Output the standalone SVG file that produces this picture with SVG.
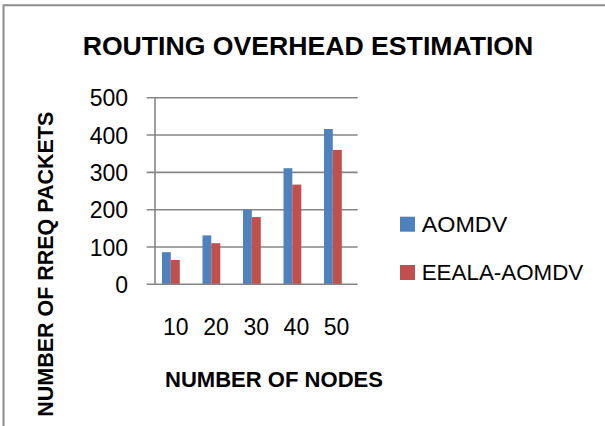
<svg xmlns="http://www.w3.org/2000/svg" width="605" height="426" viewBox="0 0 605 426">
<style>
.t{font-family:"Liberation Sans",Arial,sans-serif;fill:#000}
.b{font-weight:bold}
.grid{stroke:#868686;stroke-width:1.6;fill:none}
.blue{fill:#4F81BD}
.red{fill:#C0504D}
.tick{font-size:23px;text-anchor:end}
.xl{font-size:23px;text-anchor:middle}
</style>
<rect x="0" y="0" width="605" height="426" fill="#fff"/>
<path d="M3.5,426 V5.3 H605" fill="none" stroke="#8c8c8c" stroke-width="2"/>
<g id="title">
<text class="t b" x="82.7" y="55" font-size="26.5" textLength="450.6" lengthAdjust="spacingAndGlyphs">ROUTING OVERHEAD ESTIMATION</text>
</g>
<g id="grid">
<path class="grid" d="M146.7,97.7H357.7M146.7,135.0H357.7M146.7,172.4H357.7M146.7,209.7H357.7M146.7,247.0H357.7M155,97.7V284.3"/>
</g>
<g id="y-ticks">
<text class="t tick" x="128" y="106.2">500</text>
<text class="t tick" x="128" y="143.5">400</text>
<text class="t tick" x="128" y="180.9">300</text>
<text class="t tick" x="128" y="218.2">200</text>
<text class="t tick" x="128" y="255.5">100</text>
<text class="t tick" x="128" y="292.6">0</text>
</g>
<g id="series-aomdv">
<rect class="blue" x="162" y="252.2" width="8.8" height="32.1"/>
<rect class="blue" x="202.5" y="235.4" width="8.8" height="48.9"/>
<rect class="blue" x="243" y="209.6" width="8.8" height="74.7"/>
<rect class="blue" x="283.5" y="168.2" width="8.8" height="116.1"/>
<rect class="blue" x="324" y="129" width="8.8" height="155.3"/>
</g>
<g id="series-eeala">
<rect class="red" x="170.8" y="260" width="9" height="24.3"/>
<rect class="red" x="211.3" y="243.2" width="9" height="41.1"/>
<rect class="red" x="251.8" y="217.1" width="9" height="67.2"/>
<rect class="red" x="292.3" y="184.6" width="9" height="99.7"/>
<rect class="red" x="332.8" y="149.9" width="9" height="134.4"/>
</g>
<path class="grid" d="M146.7,284.3H357.7"/>
<g id="x-ticks">
<text class="t xl" x="175.8" y="335">10</text>
<text class="t xl" x="216" y="335">20</text>
<text class="t xl" x="256.2" y="335">30</text>
<text class="t xl" x="296.4" y="335">40</text>
<text class="t xl" x="336.6" y="335">50</text>
</g>
<g id="x-title">
<text class="t b" x="165" y="387.3" font-size="22" textLength="218" lengthAdjust="spacingAndGlyphs">NUMBER OF NODES</text>
</g>
<g id="y-title">
<text class="t b" transform="translate(53.3,416.7) rotate(-90)" x="0" y="0" font-size="21.5" textLength="305" lengthAdjust="spacingAndGlyphs">NUMBER OF RREQ PACKETS</text>
</g>
<g id="legend">
<rect class="blue" x="400" y="216.7" width="15" height="15"/>
<text class="t" x="421.7" y="231.7" font-size="21.5" textLength="85.6" lengthAdjust="spacingAndGlyphs">AOMDV</text>
<rect class="red" x="400" y="265" width="15" height="15"/>
<text class="t" x="421.7" y="280" font-size="21.5" textLength="161.6" lengthAdjust="spacingAndGlyphs">EEALA-AOMDV</text>
</g>
</svg>
